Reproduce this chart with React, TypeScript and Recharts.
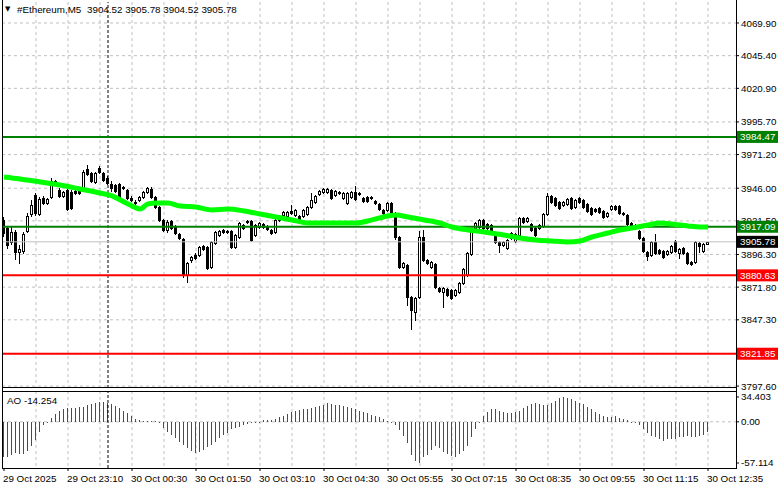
import { Bar, CartesianGrid, Cell, ComposedChart, Line, ReferenceLine, XAxis, YAxis } from "recharts";

const FONT = "'Liberation Sans', Arial, sans-serif";
const FS = 9.8;

const symbol = "#Ethereum,M5";

// 5-minute candles, 29 Oct 21:50 .. 30 Oct 12:35
const opens = [
  3922.2, 3916.2, 3905.7, 3913.2, 3898.2, 3898.9, 3913.9, 3926.7, 3940.9, 3926.7,
  3938.7, 3934.9, 3939.4, 3951.4, 3944.7, 3940.2, 3944.7, 3943.2, 3943.9, 3945.4,
  3945.4, 3960.4, 3957.4, 3950.7, 3961.2, 3957.4, 3953.7, 3949.2, 3948.4, 3949.2,
  3946.2, 3944.7, 3938.7, 3935.7, 3937.2, 3939.4, 3943.2, 3945.4, 3939.4, 3931.9,
  3922.2, 3914.7, 3921.4, 3917.7, 3911.7, 3907.9, 3880.9, 3892.2, 3895.9, 3895.9,
  3902.7, 3901.9, 3886.9, 3904.9, 3910.9, 3914.7, 3913.9, 3913.9, 3901.9, 3909.4,
  3918.4, 3920.7, 3921.4, 3910.9, 3916.9, 3919.2, 3917.7, 3914.7, 3913.2, 3922.2,
  3925.9, 3925.2, 3928.9, 3925.9, 3925.2, 3925.2, 3926.7, 3931.9, 3935.7, 3941.7,
  3943.2, 3943.2, 3944.7, 3940.9, 3943.2, 3938.7, 3934.9, 3939.4, 3943.2, 3942.4,
  3938.7, 3939.4, 3939.4, 3936.4, 3934.2, 3929.7, 3929.7, 3934.9, 3927.4, 3909.4,
  3886.9, 3888.4, 3864.4, 3853.2, 3864.4, 3909.4, 3892.2, 3886.9, 3889.2, 3871.2,
  3868.2, 3870.4, 3869.7, 3865.9, 3868.2, 3874.9, 3880.9, 3896.7, 3916.2, 3916.9,
  3922.2, 3919.2, 3918.4, 3910.9, 3905.7, 3903.4, 3901.2, 3908.7, 3906.4, 3910.9,
  3923.7, 3921.4, 3919.2, 3916.2, 3916.2, 3917.7, 3926.7, 3940.2, 3938.7, 3935.7,
  3933.4, 3934.2, 3938.7, 3931.9, 3938.7, 3937.2, 3934.2, 3931.2, 3930.4, 3931.2,
  3928.9, 3925.2, 3930.4, 3932.7, 3932.7, 3927.4, 3925.9, 3919.9, 3916.2, 3913.9,
  3908.7, 3898.2, 3895.9, 3905.7, 3899.7, 3898.9, 3896.7, 3898.2, 3906.4, 3897.4,
  3901.2, 3897.4, 3890.7, 3890.7, 3904.9, 3898.9, 3904.52,
];

const highs = [
  3924.4, 3917.7, 3917.7, 3914.7, 3903.4, 3913.2, 3927.4, 3937.2, 3942.4, 3939.4,
  3940.2, 3938.7, 3953.7, 3952.2, 3946.2, 3943.9, 3946.2, 3944.7, 3944.7, 3946.2,
  3959.7, 3963.4, 3958.2, 3958.2, 3962.7, 3958.2, 3955.2, 3951.4, 3949.2, 3949.9,
  3947.7, 3945.4, 3940.2, 3937.2, 3940.2, 3943.9, 3946.9, 3946.9, 3940.2, 3932.7,
  3922.9, 3922.2, 3922.2, 3918.4, 3912.4, 3908.7, 3890.7, 3895.2, 3897.4, 3902.7,
  3903.4, 3902.7, 3906.4, 3913.9, 3914.7, 3915.4, 3914.7, 3914.7, 3911.7, 3920.7,
  3919.2, 3922.2, 3922.2, 3919.2, 3920.7, 3919.9, 3918.4, 3915.4, 3922.9, 3925.9,
  3928.9, 3928.9, 3933.4, 3930.4, 3925.9, 3930.4, 3932.7, 3942.4, 3940.9, 3944.7,
  3946.2, 3946.2, 3945.4, 3944.7, 3943.9, 3943.2, 3943.2, 3943.9, 3947.7, 3943.2,
  3939.4, 3940.2, 3940.2, 3937.2, 3934.9, 3930.4, 3935.7, 3935.7, 3928.2, 3910.2,
  3890.7, 3889.2, 3865.2, 3864.4, 3913.9, 3914.7, 3892.9, 3891.4, 3889.9, 3871.9,
  3871.9, 3871.2, 3870.4, 3870.4, 3875.7, 3886.2, 3898.2, 3915.4, 3920.7, 3922.9,
  3922.9, 3919.9, 3919.2, 3911.7, 3906.4, 3906.4, 3907.9, 3913.2, 3912.4, 3924.4,
  3924.4, 3924.4, 3919.9, 3916.9, 3919.2, 3927.4, 3942.4, 3940.9, 3939.4, 3936.4,
  3936.4, 3938.7, 3939.4, 3937.9, 3939.4, 3937.9, 3934.9, 3931.9, 3931.2, 3931.9,
  3929.7, 3928.2, 3933.4, 3933.4, 3933.4, 3928.2, 3926.7, 3920.7, 3919.2, 3914.7,
  3909.4, 3898.9, 3906.4, 3911.7, 3900.4, 3899.7, 3899.7, 3903.4, 3907.2, 3901.2,
  3901.9, 3898.2, 3891.4, 3906.4, 3905.7, 3904.9, 3905.78,
];

const lows = [
  3910.2, 3901.2, 3904.2, 3892.9, 3889.9, 3897.4, 3913.2, 3925.2, 3925.9, 3925.9,
  3934.2, 3934.2, 3938.7, 3948.4, 3939.4, 3939.4, 3929.7, 3930.4, 3941.7, 3941.7,
  3944.7, 3955.9, 3950.7, 3949.9, 3957.4, 3951.4, 3949.2, 3943.9, 3943.2, 3936.4,
  3945.4, 3937.9, 3936.4, 3933.4, 3936.4, 3938.7, 3942.4, 3938.7, 3931.2, 3921.4,
  3913.9, 3913.2, 3915.4, 3911.7, 3907.9, 3879.4, 3875.7, 3890.7, 3892.9, 3895.2,
  3899.7, 3885.4, 3886.2, 3904.2, 3910.2, 3912.4, 3912.4, 3901.2, 3901.2, 3908.7,
  3915.4, 3919.9, 3906.4, 3910.2, 3916.2, 3916.2, 3914.7, 3911.7, 3912.4, 3921.4,
  3925.2, 3924.4, 3926.7, 3925.2, 3921.4, 3924.4, 3925.9, 3931.2, 3934.9, 3940.9,
  3942.4, 3942.4, 3937.9, 3940.2, 3941.7, 3937.9, 3934.2, 3938.7, 3937.2, 3940.9,
  3935.7, 3935.7, 3937.9, 3934.2, 3929.7, 3926.7, 3928.9, 3926.7, 3907.9, 3886.2,
  3886.2, 3858.4, 3840.4, 3847.2, 3863.7, 3891.4, 3889.2, 3886.2, 3871.2, 3868.2,
  3856.9, 3865.2, 3862.9, 3865.2, 3867.4, 3874.2, 3880.2, 3895.9, 3915.4, 3916.2,
  3915.4, 3915.4, 3913.9, 3904.9, 3898.2, 3902.7, 3900.4, 3907.9, 3905.7, 3910.2,
  3919.9, 3920.7, 3913.9, 3910.2, 3915.4, 3916.9, 3925.9, 3934.9, 3932.7, 3930.4,
  3932.7, 3933.4, 3930.4, 3931.2, 3934.9, 3931.2, 3928.2, 3925.9, 3928.2, 3927.4,
  3923.7, 3924.4, 3929.7, 3929.7, 3926.7, 3925.9, 3918.4, 3915.4, 3915.4, 3907.9,
  3898.2, 3892.2, 3895.2, 3896.7, 3896.7, 3893.7, 3895.9, 3897.4, 3898.2, 3893.7,
  3896.7, 3889.2, 3888.4, 3889.9, 3898.2, 3898.2, 3904.52,
];

const closes = [
  3912.4, 3903.4, 3913.2, 3898.2, 3900.4, 3911.7, 3925.2, 3933.4, 3927.4, 3937.9,
  3934.9, 3937.9, 3951.4, 3949.2, 3940.2, 3943.2, 3930.4, 3931.2, 3942.4, 3942.4,
  3958.2, 3956.7, 3951.4, 3957.4, 3958.2, 3952.2, 3949.9, 3946.2, 3943.9, 3937.2,
  3946.9, 3938.7, 3937.2, 3934.9, 3939.4, 3943.2, 3946.2, 3939.4, 3931.9, 3922.2,
  3914.7, 3920.7, 3916.2, 3912.4, 3908.7, 3880.9, 3889.9, 3894.4, 3893.7, 3901.9,
  3900.4, 3886.2, 3905.7, 3913.2, 3913.9, 3913.2, 3913.2, 3901.9, 3910.9, 3919.9,
  3916.2, 3921.4, 3907.2, 3918.4, 3919.9, 3916.9, 3915.4, 3912.4, 3922.2, 3925.2,
  3928.2, 3928.2, 3927.4, 3929.7, 3922.2, 3929.7, 3931.9, 3937.2, 3940.2, 3943.9,
  3945.4, 3945.4, 3938.7, 3943.9, 3942.4, 3942.4, 3942.4, 3943.2, 3937.9, 3941.7,
  3936.4, 3936.4, 3938.7, 3934.9, 3930.4, 3927.4, 3934.9, 3927.4, 3909.4, 3886.9,
  3889.9, 3864.4, 3854.7, 3863.7, 3909.4, 3892.2, 3889.9, 3890.7, 3871.9, 3868.9,
  3871.2, 3865.9, 3863.7, 3869.7, 3874.9, 3885.4, 3897.4, 3914.7, 3919.9, 3922.2,
  3916.2, 3916.2, 3914.7, 3905.7, 3903.4, 3905.7, 3907.2, 3912.4, 3911.7, 3923.7,
  3920.7, 3923.7, 3914.7, 3910.9, 3918.4, 3926.7, 3940.2, 3935.7, 3933.4, 3931.2,
  3935.7, 3937.9, 3931.2, 3937.2, 3935.7, 3931.9, 3928.9, 3926.7, 3928.9, 3928.2,
  3924.4, 3927.4, 3932.7, 3930.4, 3927.4, 3926.7, 3919.2, 3916.2, 3918.4, 3908.7,
  3898.9, 3895.2, 3905.7, 3897.4, 3897.4, 3894.4, 3898.9, 3902.7, 3898.9, 3900.4,
  3897.4, 3889.9, 3889.2, 3905.7, 3902.7, 3904.2, 3905.78,
];

// moving average, read at these bars
const maBars = [
  0, 4, 9, 14, 19, 24, 27, 30, 32, 34, 36, 38, 41, 44, 48, 52, 56, 60, 64, 68,
  72, 76, 80, 84, 88, 92, 96, 98, 101, 105, 109, 112, 116, 120, 125, 129, 133, 137, 141, 144,
  147, 151, 154, 157, 161, 164, 167, 171, 174, 176,
];
const maValues = [
  3954.4, 3952.9, 3950.7, 3948.4, 3945.4, 3942.4, 3940.2, 3935.7, 3932.7, 3930.4,
  3934.2, 3934.9, 3934.9, 3932.7, 3931.9, 3929.7, 3930.4, 3928.9, 3926.7, 3924.4,
  3922.2, 3919.9, 3919.9, 3919.9, 3919.9, 3922.2, 3925.2, 3925.9, 3924.4, 3922.2,
  3919.9, 3916.9, 3914.7, 3913.2, 3910.9, 3908.7, 3907.2, 3906.4, 3905.7, 3906.4,
  3909.4, 3912.4, 3914.7, 3916.2, 3918.4, 3919.9, 3919.2, 3917.7, 3916.9, 3916.9,
];

// Awesome Oscillator
const aoValues = [
  -49.3, -48.4, -46.0, -43.6, -44.1, -44.5, -40.0, -33.5, -25.2, -13.7,
  -4.4, -0.4, 4.8, 10.8, 15.0, 17.7, 19.1, 18.8, 19.3, 20.1,
  21.0, 22.8, 24.7, 26.5, 27.5, 27.3, 26.5, 24.7, 21.9, 18.7,
  15.0, 11.7, 8.0, 4.3, 2.5, 1.6, 1.0, 0.8, 0.5, -2.1,
  -9.0, -13.7, -18.3, -22.9, -27.5, -32.2, -36.8, -40.5, -42.8, -41.4,
  -39.1, -35.4, -32.2, -27.5, -22.9, -18.3, -15.1, -10.4, -9.0, -6.7,
  -4.9, -3.1, -1.2, -0.3, 0.3, 2.0, 2.5, 3.2, 4.3, 6.2,
  8.0, 10.8, 14.0, 15.4, 16.4, 17.3, 18.2, 19.1, 20.1, 21.9,
  23.3, 25.6, 24.7, 23.8, 22.8, 21.9, 20.1, 18.7, 17.3, 15.4,
  14.0, 11.7, 9.9, 8.0, 6.2, 3.4, 1.2, -1.5, -5.0, -11.0,
  -19.7, -29.9, -46.0, -55.0, -57.114, -49.2, -46.0, -39.1, -33.5, -36.8,
  -41.4, -44.7, -47.5, -48.4, -44.7, -40.0, -33.5, -20.6, -10.4, 0.3,
  8.0, 14.0, 17.8, 17.3, 15.0, 13.2, 12.7, 11.7, 13.2, 15.4,
  18.7, 21.9, 24.7, 25.6, 24.2, 23.8, 22.8, 25.6, 29.3, 32.5,
  34.403, 32.5, 31.2, 28.8, 26.5, 24.7, 21.0, 17.3, 14.0, 10.8,
  7.4, 6.8, 7.2, 7.5, 5.3, 3.9, 2.0, 0.2, -1.2, -4.4,
  -10.4, -15.1, -19.7, -21.6, -24.3, -26.2, -24.3, -24.0, -23.4, -21.6,
  -20.6, -20.3, -21.6, -20.6, -19.7, -18.3, -14.254,
];

const priceTicks = [4069.9, 4045.4, 4020.9, 3995.7, 3971.2, 3946.0, 3921.5, 3896.3, 3871.8, 3847.3, 3822.1, 3797.6];
const levelValues = [3984.47, 3917.09, 3880.63, 3821.85];
const levelKinds = ["support", "support", "resist", "resist"];
const bidPrice = 3905.78;

const aoTicks = [34.403, 0, -57.114];
const aoTickText = ["34.403", "0.00", "-57.114"];

const labelBars = [0, 16, 32, 48, 64, 80, 96, 112, 128, 144, 160, 176];
const timeLabels = [
  "29 Oct 2025", "29 Oct 23:10", "30 Oct 00:30", "30 Oct 01:50", "30 Oct 03:10", "30 Oct 04:30",
  "30 Oct 05:55", "30 Oct 07:15", "30 Oct 08:35", "30 Oct 09:55", "30 Oct 11:15", "30 Oct 12:35",
];
const gridBars = [8, 16, 24, 32, 40, 48, 56, 64, 72, 80, 88, 96, 104, 112, 120, 128, 136, 144, 152, 160, 168, 176];
const separatorBar = 26;

const kindColor: Record<string, string> = { support: "#008000", resist: "#ff0000" };

const rows = opens.map((o, i) => {
  const k = maBars.indexOf(i);
  return {
    i,
    o,
    h: highs[i],
    l: lows[i],
    c: closes[i],
    range: [lows[i], highs[i]],
    ma: k >= 0 ? maValues[k] : null,
    ao: aoValues[i],
  };
});

const X_DOMAIN: [number, number] = [-0.5, 183];

function Candle(props: any) {
  const { x, y, width, height, payload } = props;
  if (x == null || !payload) return null;
  const top = Math.min(y, y + height);
  const bot = Math.max(y, y + height);
  const span = payload.h - payload.l;
  const toY = (v: number) => (span > 0 ? top + ((payload.h - v) / span) * (bot - top) : top);
  const p = Math.floor(x + width / 2);
  const yo = toY(payload.o);
  const yc = toY(payload.c);
  const bTop = Math.round(Math.min(yo, yc));
  const bBot = Math.round(Math.max(yo, yc));
  const wTop = Math.round(top);
  const wBot = Math.round(bot);
  const bull = payload.c >= payload.o;
  return (
    <g shapeRendering="crispEdges">
      <rect x={p} y={wTop} width={1} height={Math.max(1, wBot - wTop + 1)} fill="#000" />
      {bull ? (
        <rect x={p - 0.5} y={bTop + 0.5} width={2} height={Math.max(0, bBot - bTop)} fill="#fff" stroke="#000" strokeWidth={1} />
      ) : (
        <rect x={p - 1} y={bTop} width={3} height={Math.max(1, bBot - bTop + 1)} fill="#000" />
      )}
    </g>
  );
}

function AoBar(props: any) {
  const { x, y, width, height, fill } = props;
  if (x == null) return null;
  const top = Math.min(y, y + height);
  const h = Math.abs(height);
  return <rect x={Math.floor(x + width / 2)} y={top} width={1} height={Math.max(1, h)} fill={fill} shapeRendering="crispEdges" />;
}

function PriceTick(props: any) {
  const { x, y, payload } = props;
  const v = payload.value as number;
  const lv = levelValues.indexOf(v);
  if (lv >= 0 || v === bidPrice) {
    const bg = lv >= 0 ? kindColor[levelKinds[lv]] : "#000";
    return (
      <g>
        <rect x={x + 1} y={y - 6} width={41} height={12} fill={bg} />
        <text x={x + 4} y={y} dy={3.5} fill="#fff" fontSize={FS} fontFamily={FONT}>
          {v.toFixed(2)}
        </text>
      </g>
    );
  }
  return (
    <g>
      <line x1={x} x2={x + 3} y1={y} y2={y} stroke="#000" />
      <text x={x + 5} y={y} dy={3.5} fill="#000" fontSize={FS} fontFamily={FONT}>
        {v.toFixed(2)}
      </text>
    </g>
  );
}

function AoTick(props: any) {
  const { x, y, payload } = props;
  const k = aoTicks.indexOf(payload.value);
  return (
    <g>
      <line x1={x} x2={x + 3} y1={y} y2={y} stroke="#000" />
      <text x={x + 5} y={y} dy={3.5} fill="#000" fontSize={FS} fontFamily={FONT}>
        {aoTickText[k]}
      </text>
    </g>
  );
}

function TimeTick(props: any) {
  const { x, y, payload } = props;
  const k = labelBars.indexOf(payload.value);
  return (
    <g>
      <line x1={x} x2={x} y1={y} y2={y + 3} stroke="#000" />
      <text x={x - 1} y={y + 14} fill="#000" fontSize={FS} fontFamily={FONT}>
        {timeLabels[k]}
      </text>
    </g>
  );
}

const line = (left: number, top: number, w: number, h: number) => (
  <div style={{ position: "absolute", left, top, width: w, height: h, background: "#000" }} />
);

export default function App() {
  const last = rows[rows.length - 1];
  return (
    <div style={{ position: "absolute", left: 0, top: 0, width: 781, height: 489, background: "#fff", fontFamily: FONT, overflow: "hidden" }}>
      <div style={{ position: "absolute", left: 0, top: 0 }}>
        <ComposedChart width={781} height={395} data={rows} margin={{ top: 2, right: 0, bottom: 7, left: 2 }}>
          <CartesianGrid stroke="#c0c0c0" strokeDasharray="3 3" verticalValues={gridBars} horizontalValues={priceTicks} />
          <XAxis type="number" dataKey="i" domain={X_DOMAIN} allowDataOverflow hide />
          <YAxis
            orientation="right"
            type="number"
            width={45}
            domain={[3796.15, 4085.65]}
            allowDataOverflow
            ticks={[...priceTicks, bidPrice, ...levelValues]}
            interval={0}
            tick={<PriceTick />}
            tickLine={false}
            axisLine={false}
            tickSize={0}
            tickMargin={0}
          />
          <ReferenceLine x={separatorBar} stroke="#000" strokeDasharray="3 2" />
          <ReferenceLine y={bidPrice} stroke="#c0c0c0" />
          {levelValues.map((v, k) => (
            <ReferenceLine key={v} y={v} stroke={kindColor[levelKinds[k]]} strokeWidth={2} />
          ))}
          <Line type="monotone" dataKey="ma" stroke="#00ff00" strokeWidth={5} dot={false} connectNulls isAnimationActive={false} />
          <Bar dataKey="range" barSize={3} shape={(p: any) => <Candle {...p} />} isAnimationActive={false} />
        </ComposedChart>
      </div>

      <div style={{ position: "absolute", left: 0, top: 389 }}>
        <ComposedChart width={781} height={100} data={rows} margin={{ top: 2, right: 0, bottom: 0, left: 2 }}>
          <CartesianGrid stroke="#c0c0c0" strokeDasharray="3 3" verticalValues={gridBars} horizontalValues={[0]} />
          <XAxis
            type="number"
            dataKey="i"
            domain={X_DOMAIN}
            allowDataOverflow
            ticks={labelBars}
            interval={0}
            height={21}
            tick={<TimeTick />}
            tickLine={false}
            axisLine={false}
            tickSize={0}
            tickMargin={0}
          />
          <YAxis
            orientation="right"
            type="number"
            width={45}
            domain={[-64.05, 42.72]}
            allowDataOverflow
            ticks={aoTicks}
            interval={0}
            tick={<AoTick />}
            tickLine={false}
            axisLine={false}
            tickSize={0}
            tickMargin={0}
          />
          <ReferenceLine x={separatorBar} stroke="#000" strokeDasharray="3 2" />
          <Bar dataKey="ao" barSize={1} shape={(p: any) => <AoBar {...p} />} isAnimationActive={false}>
            {rows.map((r, i) => (
              <Cell key={i} fill={i > 0 && r.ao > rows[i - 1].ao ? "#008000" : "#ff0000"} />
            ))}
          </Bar>
        </ComposedChart>
      </div>

      {/* panel frames */}
      {line(2, 0, 1, 469)}
      {line(736, 0, 1, 469)}
      {line(2, 387, 735, 1)}
      {line(2, 391, 735, 1)}
      {line(2, 468, 735, 1)}

      <div style={{ position: "absolute", left: 5, top: 4, fontSize: 7, lineHeight: "10px", color: "#000", fontFamily: "'DejaVu Sans', sans-serif" }}>▼</div>
      <div style={{ position: "absolute", left: 17, top: 4, fontSize: FS, lineHeight: "12px", color: "#000", whiteSpace: "pre" }}>{symbol}</div>
      <div style={{ position: "absolute", left: 87, top: 4, fontSize: FS, lineHeight: "12px", color: "#000", whiteSpace: "pre" }}>
        {`${last.o.toFixed(2)} ${last.h.toFixed(2)} ${last.l.toFixed(2)} ${last.c.toFixed(2)}`}
      </div>
      <div style={{ position: "absolute", left: 7, top: 395, fontSize: FS, lineHeight: "12px", color: "#000", whiteSpace: "pre" }}>
        {`AO ${last.ao.toFixed(3)}`}
      </div>
    </div>
  );
}
